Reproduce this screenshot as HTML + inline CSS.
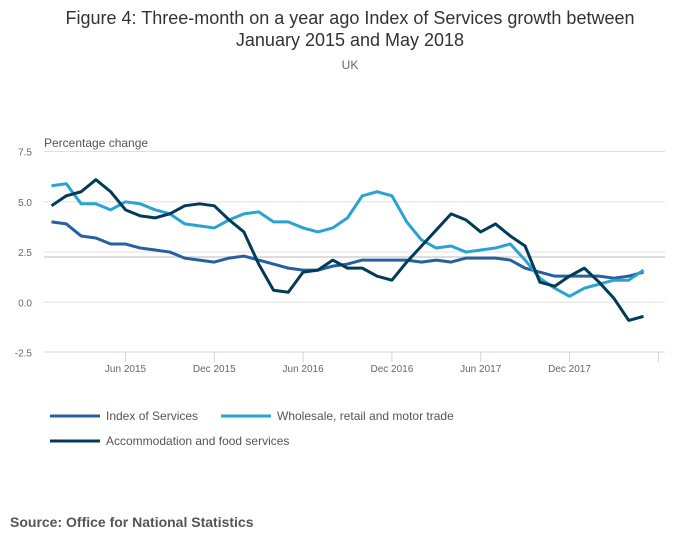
<!DOCTYPE html>
<html><head><meta charset="utf-8"><style>
body{margin:0;background:#fff;font-family:"Liberation Sans",sans-serif;}
svg text{font-family:"Liberation Sans",sans-serif;}
</style></head><body>
<svg width="700" height="549" xmlns="http://www.w3.org/2000/svg">
<text x="350" y="24" text-anchor="middle" font-size="18" fill="#333">Figure 4: Three-month on a year ago Index of Services growth between</text>
<text x="350" y="46" text-anchor="middle" font-size="18" fill="#333">January 2015 and May 2018</text>
<text x="350" y="69" text-anchor="middle" font-size="12" fill="#666">UK</text>
<text x="44" y="147" font-size="12" fill="#555">Percentage change</text>
<g id="grid"></g><g id="series"></g>
<text x="10" y="527" font-size="14" font-weight="bold" fill="#555">Source: Office for National Statistics</text>
<g>
<line x1="50" y1="416" x2="100" y2="416" stroke="#27609e" stroke-width="3"/>
<text x="106" y="420" font-size="12" fill="#555">Index of Services</text>
<line x1="221" y1="416" x2="271" y2="416" stroke="#2aa3d0" stroke-width="3"/>
<text x="277" y="420" font-size="12" fill="#555">Wholesale, retail and motor trade</text>
<line x1="50" y1="441" x2="100" y2="441" stroke="#003c57" stroke-width="3"/>
<text x="106" y="445" font-size="12" fill="#555">Accommodation and food services</text>
</g>
</svg>
<script>
const yTicks=[7.5,5.0,2.5,0.0,-2.5];
const xTickLabels=["Jun 2015","Dec 2015","Jun 2016","Dec 2016","Jun 2017","Dec 2017",""];
const xTickIdx=[5,11,17,23,29,35,41];
const ios=[4.0,3.9,3.3,3.2,2.9,2.9,2.7,2.6,2.5,2.2,2.1,2.0,2.2,2.3,2.1,1.9,1.7,1.6,1.6,1.8,1.9,2.1,2.1,2.1,2.1,2.0,2.1,2.0,2.2,2.2,2.2,2.1,1.7,1.5,1.3,1.3,1.3,1.3,1.2,1.3,1.5];
const wholesale=[5.8,5.9,4.9,4.9,4.6,5.0,4.9,4.6,4.4,3.9,3.8,3.7,4.1,4.4,4.5,4.0,4.0,3.7,3.5,3.7,4.2,5.3,5.5,5.3,4.0,3.1,2.7,2.8,2.5,2.6,2.7,2.9,2.1,1.2,0.7,0.3,0.7,0.9,1.1,1.1,1.6];
const accommodation=[4.8,5.3,5.5,6.1,5.5,4.6,4.3,4.2,4.4,4.8,4.9,4.8,4.1,3.5,1.9,0.6,0.5,1.5,1.6,2.1,1.7,1.7,1.3,1.1,2.0,2.8,3.6,4.4,4.1,3.5,3.9,3.3,2.8,1.0,0.8,1.3,1.7,1.0,0.2,-0.9,-0.7];
const NS="http://www.w3.org/2000/svg";
function xS(i){return 51.5+i*14.8;}
function yS(v){return 302.3-v*20.1;}
const grid=document.getElementById('grid'),ser=document.getElementById('series');
function mk(t,a,p){const e=document.createElementNS(NS,t);for(const k in a)e.setAttribute(k,a[k]);p.appendChild(e);return e;}
yTicks.forEach(v=>{
  if(v>-2.5){const l=mk('line',{x1:44,x2:665,y1:yS(v),y2:yS(v),stroke:'#e0e0e0','stroke-width':1},grid);
  
  }
  const t=mk('text',{x:32,y:yS(v)+4,'text-anchor':'end','font-size':10,fill:'#666'},grid);
  t.textContent=v.toFixed(1);
  
  
});
const ref=mk('line',{x1:44,x2:665,y1:257,y2:257,stroke:'#ddd','stroke-width':2},grid);


const ax=mk('line',{x1:44,x2:665,y1:352,y2:352,stroke:'#ccd6eb','stroke-width':1},grid);


xTickIdx.forEach((idx,k)=>{
  const x=xS(idx);
  const tk=mk('line',{x1:x,x2:x,y1:352,y2:362,stroke:'#ccd6eb'},grid);
  
  
  const t=mk('text',{x:x,y:372,'text-anchor':'middle','font-size':10,fill:'#666'},grid);
  t.textContent=xTickLabels[k];
  
  
});
[[ios,'#27609e','line-index-of-services'],[wholesale,'#2aa3d0','line-wholesale'],[accommodation,'#003c57','line-accommodation']].forEach(([d,c,n])=>{
  const p=mk('polyline',{points:d.map((v,i)=>xS(i)+','+yS(v)).join(' '),fill:'none',stroke:c,'stroke-width':3,'stroke-linejoin':'round'},ser);
  
  
});
</script>
</body></html>
